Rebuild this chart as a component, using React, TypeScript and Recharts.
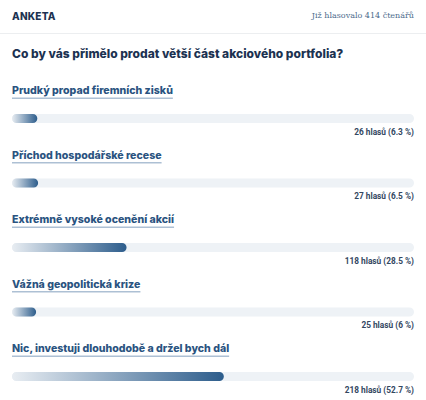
import React, { useLayoutEffect, useRef, useState } from 'react';
import { BarChart, Bar, XAxis, YAxis, LabelList } from 'recharts';

// poll answers, vote counts and shares (%)
const answers = [
  'Prudký propad firemních zisků',
  'Příchod hospodářské recese',
  'Extrémně vysoké ocenění akcií',
  'Vážná geopolitická krize',
  'Nic, investuji dlouhodobě a držel bych dál',
];
const votes = [26, 27, 118, 25, 218];
const shares = [6.3, 6.5, 28.5, 6, 52.7];
const totalVotes = 414;

const data = answers.map((answer, i) => ({ answer, votes: votes[i], share: shares[i] }));

const NAVY = '#1c3251';
const ANSWER_BLUE = '#2a5380';
const BAR_DARK = '#2d5d8c';
const TRACK = '#eef2f6';
const LABEL_FONT = 'Inter, "Noto Sans", sans-serif';
const WIDTH = 426;
const PLOT_RIGHT = 414;

const AnswerTitle = (props: any) => {
  const { x, y, value } = props;
  const ref = useRef<SVGTextElement>(null);
  const [w, setW] = useState(0);
  useLayoutEffect(() => {
    if (ref.current) setW(ref.current.getComputedTextLength());
  }, [value]);
  return (
    <g>
      <text ref={ref} x={x} y={y - 20} fill={ANSWER_BLUE} fontFamily={LABEL_FONT} fontWeight={800} fontSize={10.6}>
        {value}
      </text>
      <rect x={x} y={y - 16.5} width={w} height={1.5} fill="#adc0d4" />
    </g>
  );
};

const VoteCount = (props: any) => {
  const { y, index } = props;
  const d = data[index];
  return (
    <text
      x={PLOT_RIGHT}
      y={y + 20.5}
      textAnchor="end"
      fill="#33475f"
      fontFamily="Roboto, sans-serif"
      fontWeight={700}
      fontSize={8.3}
    >
      {`${d.votes} hlasů (${d.share} %)`}
    </text>
  );
};

export default function App() {
  return (
    <div style={{ position: 'absolute', left: 0, top: 0, width: WIDTH, height: 400, overflow: 'hidden', background: '#fff' }}>
      <div
        style={{
          position: 'absolute', left: 12, top: 10, fontFamily: LABEL_FONT, fontWeight: 800,
          fontSize: 10, color: NAVY, letterSpacing: 0.2,
        }}
      >
        ANKETA
      </div>
      <div
        style={{
          position: 'absolute', right: 12, top: 11, fontFamily: '"DejaVu Serif", serif',
          fontSize: 8, color: '#4b6b8c',
        }}
      >
        Již hlasovalo {totalVotes} čtenářů
      </div>
      <div style={{ position: 'absolute', left: 0, top: 33, width: WIDTH, height: 1, background: '#eceef0' }} />
      <div
        style={{
          position: 'absolute', left: 12, top: 46, fontFamily: LABEL_FONT, fontWeight: 800,
          fontSize: 12, color: NAVY,
        }}
      >
        Co by vás přimělo prodat větší část akciového portfolia?
      </div>
      <div style={{ position: 'absolute', left: 0, top: 0 }}>
        <BarChart
          width={WIDTH}
          height={410}
          data={data}
          layout="vertical"
          margin={{ top: 86, right: WIDTH - PLOT_RIGHT, bottom: 1.5, left: 12 }}
        >
          <defs>
            <linearGradient id="fillGrad" x1="0" y1="0" x2="1" y2="0">
              <stop offset="0%" stopColor="#e8edf2" />
              <stop offset="100%" stopColor={BAR_DARK} />
            </linearGradient>
          </defs>
          <XAxis type="number" domain={[0, 100]} hide />
          <YAxis type="category" dataKey="answer" hide />
          <Bar
            dataKey="share"
            barSize={9}
            radius={4.5}
            fill="url(#fillGrad)"
            background={{ fill: TRACK, radius: 4.5 } as any}
            isAnimationActive={false}
          >
            <LabelList dataKey="answer" content={<AnswerTitle />} />
            <LabelList dataKey="votes" content={<VoteCount />} />
          </Bar>
        </BarChart>
      </div>
    </div>
  );
}
